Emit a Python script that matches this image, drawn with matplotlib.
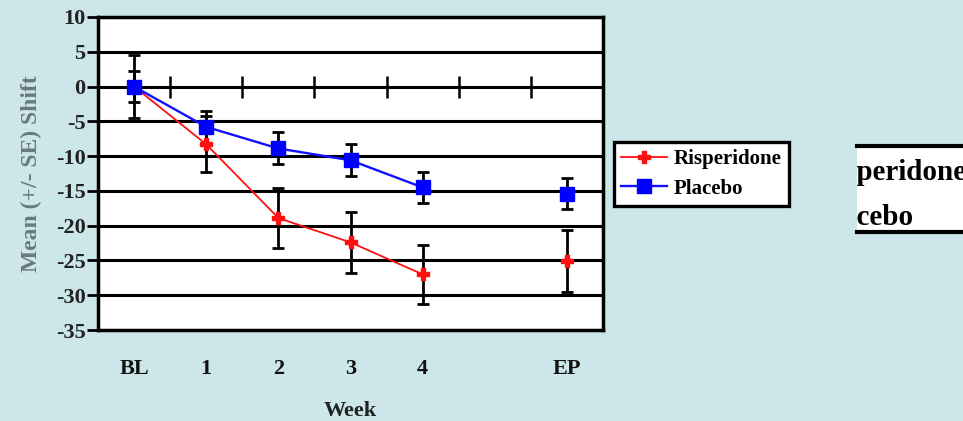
import numpy as np
import matplotlib
matplotlib.use("Agg")
import matplotlib.pyplot as plt

# ---- data ----
categories = ["BL", "1", "2", "3", "4", "", "EP"]
risperidone = [0.0, -8.3, -18.9, -22.4, -27.0, np.nan, -25.1]
risperidone_se = [4.5, 4.0, 4.3, 4.4, 4.2, np.nan, 4.5]
placebo = [0.0, -5.8, -8.9, -10.6, -14.5, np.nan, -15.4]
placebo_se = [2.2, 2.3, 2.3, 2.3, 2.2, np.nan, 2.2]
yticks = [10, 5, 0, -5, -10, -15, -20, -25, -30, -35]

BG = "#cde6ea"
W, H = 963, 421
fig = plt.figure(figsize=(W / 100, H / 100), dpi=100, facecolor=BG)
serif = ["Liberation Serif", "DejaVu Serif"]

ax = fig.add_axes([98 / W, 1 - 330 / H, (603 - 98) / W, (330 - 17) / H])
ax.set_facecolor("white")
x = np.arange(len(categories))

for yv in yticks:
    ax.axhline(yv, color="black", lw=2.2, zorder=1)

ax.errorbar(x, risperidone, yerr=risperidone_se, fmt="none", ecolor="black",
            elinewidth=2, capsize=4, capthick=2, zorder=3)
ax.errorbar(x, placebo, yerr=placebo_se, fmt="none", ecolor="black",
            elinewidth=2, capsize=4, capthick=2, zorder=3)
ax.plot(x, risperidone, color="#ff1010", lw=1.3, marker="P", ms=8,
        mec="#ff1010", mfc="#ff1010", zorder=4, label="Risperidone")
ax.plot(x, placebo, color="#1010ff", lw=1.7, marker="s", ms=10,
        mec="#0000ff", mfc="#0000ff", zorder=5, label="Placebo")

ax.set_xlim(-0.5, 6.5)
ax.set_ylim(-35, 10)
ax.set_yticks(yticks)
ax.set_yticklabels([str(v) for v in yticks], fontfamily=serif,
                   fontweight="bold", fontsize=16, color="#222222")
ax.tick_params(axis="y", direction="out", length=8, width=2, pad=1)
ax.set_xticks(x)
ax.set_xticklabels(categories, fontfamily=serif, fontweight="bold",
                   fontsize=16, color="#111111")
ax.tick_params(axis="x", length=0, pad=21)
for s in ax.spines.values():
    s.set_linewidth(2.5)

# minor ticks crossing the zero line
sec = ax.secondary_xaxis(35 / 45)
sec.set_xticks(np.arange(0.5, 6.0, 1.0))
sec.set_xticklabels([])
sec.tick_params(direction="inout", length=16, width=1.8, color="black")
sec.spines["bottom"].set_visible(False)
sec.spines["top"].set_visible(False)

ax.set_xlabel("Week", fontfamily=serif, fontweight="bold", fontsize=16,
              color="#222222", labelpad=16)
ax.set_ylabel("Mean (+/- SE) Shift", fontfamily=serif, fontweight="bold",
              fontsize=17, color="#6a7a7c", labelpad=10)

leg = fig.legend(loc="upper left", bbox_to_anchor=(614 / W, 1 - 142 / H),
                 prop={"family": serif, "weight": "bold", "size": 15},
                 frameon=True, fancybox=False, edgecolor="black",
                 framealpha=1, facecolor="white",
                 handlelength=2.2, handletextpad=0.3, borderpad=0.35,
                 labelspacing=0.45, borderaxespad=0)
leg.get_frame().set_linewidth(2.4)

# cropped duplicate legend fragment at the right edge (cut off as in the source)
ax2 = fig.add_axes([857 / W, 1 - 232 / H, (W - 857) / W, (232 - 146) / H])
ax2.set_facecolor("white")
ax2.set_xlim(0, W - 857)
ax2.set_ylim(0, 86)
ax2.set_xticks([])
ax2.set_yticks([])
for k in ("left", "right"):
    ax2.spines[k].set_visible(False)
for k in ("top", "bottom"):
    ax2.spines[k].set_linewidth(3)
ax2.text(-40, 60, "Risperidone", fontfamily=serif, fontweight="bold",
         fontsize=21, va="center", ha="left", clip_on=True)
ax2.text(-40, 14, "Placebo", fontfamily=serif, fontweight="bold",
         fontsize=21, va="center", ha="left", clip_on=True)

fig.savefig("out.png", dpi=100, facecolor=BG)
